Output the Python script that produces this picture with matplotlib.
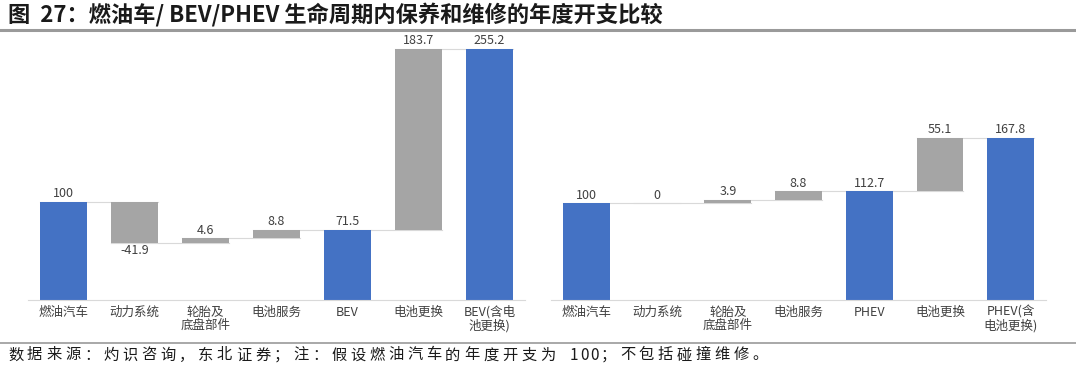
import numpy as np
import matplotlib
matplotlib.use("Agg")
import matplotlib.pyplot as plt

plt.rcParams['font.family'] = ['Noto Sans CJK SC', 'DejaVu Sans']

BLUE = "#4472C4"
GREY = "#A5A5A5"
LINE = "#D9D9D9"
TXT = "#404040"

# left waterfall: ICE -> BEV
bev_cats = ["燃油汽车", "动力系统", "轮胎及\n底盘部件", "电池服务", "BEV", "电池更换", "BEV(含电\n池更换)"]
bev_vals = [100, -41.9, 4.6, 8.8, 71.5, 183.7, 255.2]
bev_total = [True, False, False, False, True, False, True]

# right waterfall: ICE -> PHEV
phev_cats = ["燃油汽车", "动力系统", "轮胎及\n底盘部件", "电池服务", "PHEV", "电池更换", "PHEV(含\n电池更换)"]
phev_vals = [100, 0, 3.9, 8.8, 112.7, 55.1, 167.8]
phev_total = [True, False, False, False, True, False, True]

title = "图  27：燃油车/ BEV/PHEV 生命周期内保养和维修的年度开支比较"
source = "数据来源：灼识咨询，东北证券；注：假设燃油汽车的年度开支为 100；不包括碰撞维修。"

W, H = 1076, 365


def waterfall(ax, cats, vals, totals, ymax):
    x = np.arange(len(cats))
    w = 0.66
    level = 0.0
    tops = []
    for i, (v, t) in enumerate(zip(vals, totals)):
        if t:
            bottom, height, color = 0, v, BLUE
            level = v
        else:
            bottom, height, color = level, v, GREY
            level = level + v
        if height != 0:
            ax.bar(x[i], height, bottom=bottom, width=w, color=color, zorder=2)
        tops.append(level)
        if v < 0:
            ax.text(x[i], level - 1.5, f"{v:g}", ha="center", va="top", fontsize=9, color=TXT)
        else:
            ax.text(x[i], level + 1.5, f"{v:g}", ha="center", va="bottom", fontsize=9, color=TXT)
    # connectors between bars
    for i in range(len(cats) - 1):
        ax.plot([x[i] - w / 2, x[i + 1] + w / 2], [tops[i], tops[i]], color=LINE, lw=0.8, zorder=1)
    ax.set_xlim(-0.5, len(cats) - 0.5)
    ax.set_ylim(0, ymax)
    ax.set_xticks(x)
    ax.set_xticklabels(cats, fontsize=9, color=TXT, linespacing=1.0)
    ax.tick_params(axis="x", length=0, pad=4)
    ax.set_yticks([])
    for s in ["top", "right", "left"]:
        ax.spines[s].set_visible(False)
    ax.spines["bottom"].set_color(LINE)


def spaced_text(fig, s, x0, yc, pitch, size):
    # source line in the report has wide, fixed character pitch
    x = x0
    for ch in s:
        if ch != " ":
            fig.text(x / W, 1 - yc / H, ch, fontsize=size, va="center", ha="left", color="#1a1a1a")
        x += pitch if ord(ch) > 127 else pitch * 0.55


fig = plt.figure(figsize=(10.76, 3.65), dpi=100)
ax1 = fig.add_axes([28 / W, 1 - 300 / H, 497 / W, 256 / H])
ax2 = fig.add_axes([551 / W, 1 - 300 / H, 495 / W, 256 / H])
waterfall(ax1, bev_cats, bev_vals, bev_total, 260)
waterfall(ax2, phev_cats, phev_vals, phev_total, 265)

fig.text(8 / W, 1 - 15 / H, title, fontsize=16, fontweight="bold",
         va="center", ha="left", color="#1a1a1a")
fig.add_artist(plt.Line2D([0.0, 1.0], [1 - 30 / H, 1 - 30 / H], color="#9a9a9a", lw=2.2))
fig.add_artist(plt.Line2D([0.0, 1.0], [1 - 343 / H, 1 - 343 / H], color="#9a9a9a", lw=1.2))
spaced_text(fig, source, 8, 355, 19.0, 11)

fig.savefig("out.png", dpi=100)
